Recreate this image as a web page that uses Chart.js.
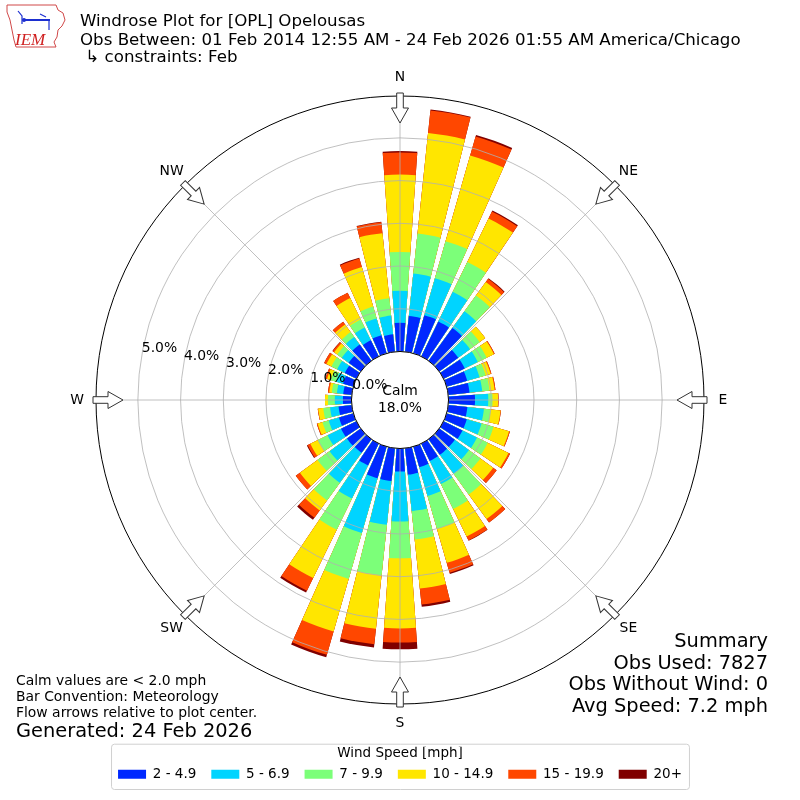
<!DOCTYPE html>
<html>
<head>
<meta charset="utf-8">
<title>Windrose Plot for [OPL] Opelousas</title>
<script src="https://cdn.jsdelivr.net/npm/chart.js@4.4.1/dist/chart.umd.min.js"></script>
<style>
  html, body { margin: 0; padding: 0; background: #fff; }
  #wrap { width: 800px; height: 800px; position: relative; }
</style>
</head>
<body>
<div id="wrap"><canvas id="rose"></canvas></div>
<script>
// direction the wind blows from, degrees
const directions = [0, 10, 20, 30, 40, 50, 60, 70, 80, 90, 100, 110,
  120, 130, 140, 150, 160, 170, 180, 190, 200, 210, 220, 230,
  240, 250, 260, 270, 280, 290, 300, 310, 320, 330, 340, 350];
const speedBins = ['2 - 4.9', '5 - 6.9', '7 - 9.9', '10 - 14.9', '15 - 19.9', '20+'];
const binColors = ['#0028ff', '#00d4ff', '#7cff79', '#ffe600', '#ff4700', '#800000'];

// percent of observations in each direction, one list per speed bin
const spd2 = [0.67, 0.84, 0.93, 0.91, 0.95, 0.55, 0.55, 0.50, 0.50, 0.62, 0.45, 0.49,
  0.49, 0.45, 0.45, 0.45, 0.50, 0.62, 0.54, 0.77, 0.77, 0.57, 0.39, 0.40,
  0.40, 0.35, 0.31, 0.20, 0.20, 0.25, 0.30, 0.35, 0.47, 0.42, 0.44, 0.41];
const spd5 = [0.75, 1.00, 0.90, 0.77, 0.48, 0.34, 0.34, 0.30, 0.30, 0.31, 0.39, 0.36,
  0.38, 0.41, 0.55, 0.60, 0.70, 0.86, 1.17, 1.03, 1.33, 0.86, 0.87, 0.50,
  0.35, 0.25, 0.20, 0.19, 0.15, 0.17, 0.20, 0.20, 0.22, 0.33, 0.41, 0.44];
const spd7 = [0.91, 0.94, 0.90, 0.78, 0.46, 0.28, 0.23, 0.15, 0.17, 0.10, 0.16, 0.29,
  0.28, 0.33, 0.60, 0.65, 0.80, 0.67, 0.86, 1.19, 1.12, 0.81, 0.51, 0.35,
  0.25, 0.15, 0.16, 0.16, 0.12, 0.13, 0.15, 0.13, 0.14, 0.21, 0.29, 0.41];
const spd10 = [1.81, 2.37, 2.09, 1.13, 0.39, 0.16, 0.19, 0.12, 0.12, 0.13, 0.23, 0.38,
  0.54, 0.37, 0.71, 0.72, 0.83, 1.15, 1.64, 1.26, 1.28, 1.26, 0.29, 0.51,
  0.20, 0.12, 0.12, 0.07, 0.06, 0.09, 0.13, 0.09, 0.22, 0.56, 0.96, 1.53];
const spd15 = [0.52, 0.53, 0.46, 0.18, 0.09, 0.00, 0.02, 0.02, 0.02, 0.01, 0.01, 0.02,
  0.04, 0.10, 0.10, 0.10, 0.24, 0.38, 0.33, 0.36, 0.57, 0.33, 0.21, 0.12,
  0.07, 0.02, 0.01, 0.00, 0.03, 0.04, 0.06, 0.04, 0.08, 0.14, 0.21, 0.26];
const spd20 = [0.03, 0.02, 0.04, 0.03, 0.02, 0.00, 0.00, 0.00, 0.00, 0.00, 0.00, 0.00,
  0.00, 0.00, 0.00, 0.01, 0.03, 0.05, 0.16, 0.08, 0.06, 0.05, 0.06, 0.00,
  0.02, 0.00, 0.00, 0.00, 0.00, 0.00, 0.00, 0.01, 0.00, 0.00, 0.02, 0.01];

const rTicks = [0, 1, 2, 3, 4, 5];
const rMin = -1.136;
const rMax = 5.98;
const compassPoints = ['N', 'NE', 'E', 'SE', 'S', 'SW', 'W', 'NW'];
const calmPct = 18.0;
const obsUsed = 7827;
const obsWithoutWind = 0;
const avgSpeed = 7.2;

const barAngle = 8;
const gapAngle = 2;
const FONT = '"DejaVu Sans", sans-serif';

// each bin is drawn from the centre out to its running total,
// the lower bins sit on top so the rings look stacked
const bins = [spd2, spd5, spd7, spd10, spd15, spd20];
const totals = bins.map((_, j) =>
  directions.map((d, i) => bins.slice(0, j + 1).reduce((s, b) => s + b[i], 0)));

const datasets = speedBins.map((label, j) => ({
  label: label,
  data: totals[j].flatMap(v => [v, 0]),
  backgroundColor: ctx => ctx.dataIndex % 2 ? 'rgba(0,0,0,0)' : binColors[j],
  borderWidth: 0,
  angle: ctx => ctx.dataIndex % 2 ? gapAngle : barAngle
}));
const labels = directions.flatMap(d => [d + '°', '']);

function roundRectPath(ctx, x, y, w, h, r) {
  ctx.beginPath();
  ctx.moveTo(x + r, y);
  ctx.arcTo(x + w, y, x + w, y + h, r);
  ctx.arcTo(x + w, y + h, x, y + h, r);
  ctx.arcTo(x, y + h, x, y, r);
  ctx.arcTo(x, y, x + w, y, r);
  ctx.closePath();
}

function drawLogo(ctx) {
  ctx.save();
  ctx.strokeStyle = '#d04848';
  ctx.lineWidth = 1;
  ctx.beginPath();
  ctx.moveTo(7, 5); ctx.lineTo(56, 5); ctx.lineTo(58, 10); ctx.lineTo(63, 13);
  ctx.lineTo(65, 20); ctx.lineTo(62, 26); ctx.lineTo(58, 30); ctx.lineTo(57, 37);
  ctx.lineTo(54, 42); ctx.lineTo(56, 47); ctx.lineTo(16, 47); ctx.lineTo(14, 40);
  ctx.lineTo(12, 30); ctx.lineTo(10, 20); ctx.lineTo(7, 12); ctx.closePath();
  ctx.stroke();
  ctx.strokeStyle = '#1c2fd0';
  ctx.fillStyle = '#1c2fd0';
  ctx.lineWidth = 2;
  ctx.beginPath(); ctx.moveTo(24, 20); ctx.lineTo(50, 20); ctx.stroke();
  ctx.lineWidth = 1.2;
  ctx.beginPath(); ctx.moveTo(18, 11); ctx.lineTo(22, 16); ctx.lineTo(22, 24); ctx.stroke();
  ctx.beginPath(); ctx.moveTo(40, 14); ctx.lineTo(46, 17); ctx.stroke();
  ctx.beginPath(); ctx.moveTo(49, 20); ctx.lineTo(49, 30); ctx.stroke();
  ctx.beginPath(); ctx.arc(24, 20, 2, 0, Math.PI * 2); ctx.fill();
  ctx.fillStyle = '#d02020';
  ctx.font = 'italic 17px "Liberation Serif", serif';
  ctx.textAlign = 'left';
  ctx.textBaseline = 'alphabetic';
  ctx.fillText('IEM', 15, 45);
  ctx.restore();
}

const decorPlugin = {
  id: 'windroseDecor',
  afterDraw(chart) {
    const ctx = chart.ctx;
    const scale = chart.scales.r;
    const cx = scale.xCenter, cy = scale.yCenter;
    const outerR = scale.drawingArea;
    const calmR = scale.getDistanceFromCenterForValue(0);
    const toXY = (bearing, dist) => {
      const a = (bearing - 90) * Math.PI / 180;
      return [cx + dist * Math.cos(a), cy + dist * Math.sin(a)];
    };
    ctx.save();

    // spokes at the compass points
    ctx.strokeStyle = '#b0b0b0';
    ctx.lineWidth = 0.8;
    compassPoints.forEach((_, i) => {
      const [x, y] = toXY(i * 45, outerR);
      ctx.beginPath(); ctx.moveTo(cx, cy); ctx.lineTo(x, y); ctx.stroke();
    });

    // outer frame and calm disc
    ctx.strokeStyle = '#000';
    ctx.lineWidth = 1;
    ctx.beginPath(); ctx.arc(cx, cy, outerR, 0, Math.PI * 2); ctx.stroke();
    ctx.fillStyle = '#fff';
    ctx.beginPath(); ctx.arc(cx, cy, calmR, 0, Math.PI * 2); ctx.fill(); ctx.stroke();

    ctx.fillStyle = '#000';
    ctx.font = '13.9px ' + FONT;
    ctx.textAlign = 'center';
    ctx.textBaseline = 'middle';
    ctx.fillText('Calm', cx, cy - 9);
    ctx.fillText(calmPct.toFixed(1) + '%', cx, cy + 8);

    // radius labels
    ctx.textAlign = 'left';
    ctx.textBaseline = 'bottom';
    rTicks.forEach(v => {
      const [x, y] = toXY(280, scale.getDistanceFromCenterForValue(v));
      ctx.fillText(v.toFixed(1) + '%', x, y + 1);
    });

    // flow arrows and compass labels
    compassPoints.forEach((label, i) => {
      ctx.save();
      ctx.translate(cx, cy);
      ctx.rotate(i * 45 * Math.PI / 180);
      const tail = -(outerR + 3), base = -(outerR - 12), tip = -(outerR - 27);
      ctx.beginPath();
      ctx.moveTo(-3.3, tail); ctx.lineTo(3.3, tail); ctx.lineTo(3.3, base);
      ctx.lineTo(8.5, base); ctx.lineTo(0, tip); ctx.lineTo(-8.5, base);
      ctx.lineTo(-3.3, base); ctx.closePath();
      ctx.fillStyle = '#fff';
      ctx.strokeStyle = '#333';
      ctx.lineWidth = 1;
      ctx.fill(); ctx.stroke();
      ctx.restore();
      const [lx, ly] = toXY(i * 45, outerR + 19);
      ctx.fillStyle = '#000';
      ctx.textAlign = 'center';
      ctx.textBaseline = 'middle';
      ctx.fillText(label, lx, ly);
    });

    // legend frame
    const lg = chart.legend;
    const hb = lg.legendHitBoxes;
    const left = Math.min(...hb.map(b => b.left)) - 7;
    const right = Math.max(...hb.map(b => b.left + b.width)) + 7;
    ctx.strokeStyle = '#d0d0d0';
    ctx.lineWidth = 1;
    roundRectPath(ctx, left + 0.5, lg.top - 2.5, right - left, lg.bottom - lg.top + 1, 3);
    ctx.stroke();

    // header
    drawLogo(ctx);
    ctx.fillStyle = '#000';
    ctx.textAlign = 'left';
    ctx.textBaseline = 'alphabetic';
    ctx.font = '16.67px ' + FONT;
    ctx.fillText('Windrose Plot for [OPL] Opelousas', 80, 26);
    ctx.fillText('Obs Between: 01 Feb 2014 12:55 AM - 24 Feb 2026 01:55 AM America/Chicago', 80, 44.5);
    ctx.fillText(' \u21b3 constraints: Feb', 80, 61.5);

    // footnotes
    ctx.font = '13.9px ' + FONT;
    ctx.fillText('Calm values are < 2.0 mph', 16, 685);
    ctx.fillText('Bar Convention: Meteorology', 16, 701);
    ctx.fillText('Flow arrows relative to plot center.', 16, 717);
    ctx.font = '19.4px ' + FONT;
    ctx.fillText('Generated: 24 Feb 2026', 16, 737);

    // summary
    ctx.textAlign = 'right';
    ctx.fillText('Summary', 768, 647);
    ctx.fillText('Obs Used: ' + obsUsed, 768, 668.5);
    ctx.fillText('Obs Without Wind: ' + obsWithoutWind, 768, 690);
    ctx.fillText('Avg Speed: ' + avgSpeed.toFixed(1) + ' mph', 768, 711.5);
    ctx.restore();
  }
};

Chart.defaults.font.family = FONT;
Chart.defaults.color = '#000';

new Chart(document.getElementById('rose'), {
  type: 'polarArea',
  data: { labels: labels, datasets: datasets },
  options: {
    responsive: true,
    maintainAspectRatio: false,
    animation: false,
    events: [],
    layout: { padding: { left: 96, right: 96, top: 54, bottom: 9 } },
    scales: {
      r: {
        min: rMin,
        max: rMax,
        startAngle: -barAngle / 2,
        ticks: { display: false },
        pointLabels: { display: false },
        angleLines: { display: false },
        grid: { circular: true, color: '#b0b0b0', lineWidth: 0.8, z: 1 },
        afterBuildTicks: s => { s.ticks = rTicks.map(v => ({ value: v })); }
      }
    },
    plugins: {
      tooltip: { enabled: false },
      legend: {
        position: 'bottom',
        title: {
          display: true,
          text: 'Wind Speed [mph]',
          font: { size: 13.5, lineHeight: 0.8 },
          padding: { top: 0, bottom: -5 },
          color: '#000'
        },
        labels: {
          boxWidth: 28,
          boxHeight: 9,
          padding: 15,
          font: { size: 13.5 },
          color: '#000',
          generateLabels: chart => chart.data.datasets.map((ds, i) => ({
            text: ds.label,
            fillStyle: binColors[i],
            strokeStyle: binColors[i],
            lineWidth: 0,
            hidden: false,
            datasetIndex: i
          }))
        }
      }
    }
  },
  plugins: [decorPlugin]
});
</script>
</body>
</html>
